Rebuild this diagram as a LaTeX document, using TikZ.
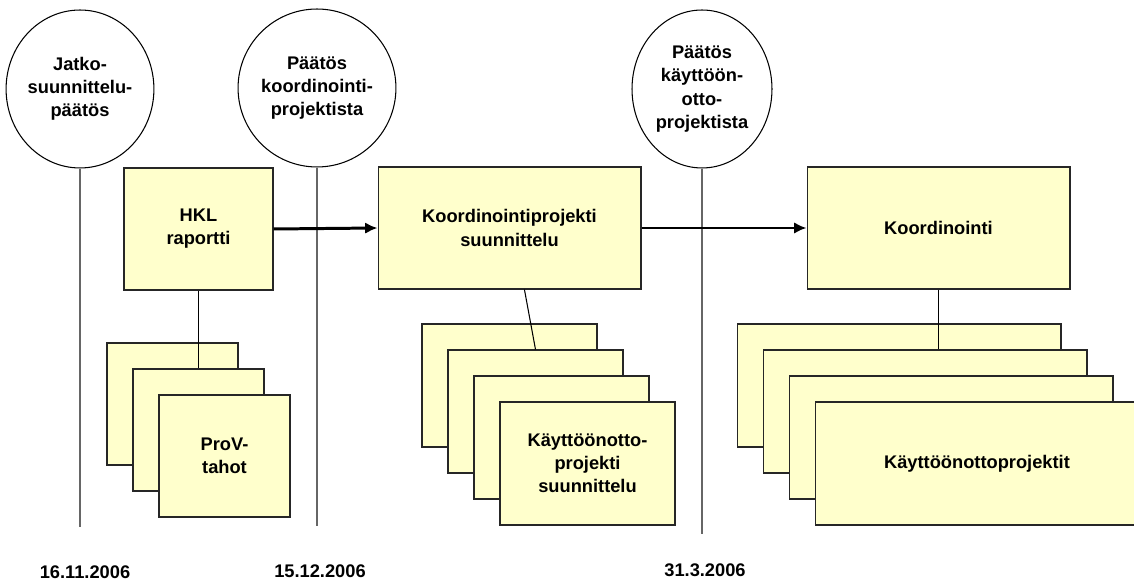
\documentclass[tikz,border=0pt]{standalone}
\usepackage{fontspec}
\setmainfont{Liberation Sans}
\usetikzlibrary{arrows.meta,positioning,shapes.geometric}
\definecolor{paleyellow}{HTML}{FFFFCC}
\definecolor{lanegray}{HTML}{666666}
\begin{document}
\begin{tikzpicture}[x=0.02cm,y=-0.02cm,>=Latex,
  font=\bfseries\fontsize{10.4}{13.2}\selectfont,
  gate/.style={draw,ellipse,minimum width=2.8cm,minimum height=3.16cm,inner sep=0pt,align=center,line width=0.6pt},
  lane/.style={draw=lanegray,line width=0.8pt},
  box/.style={draw=black!85,fill=paleyellow,line width=0.6pt,align=center,inner sep=0pt},
  flow/.style={->,line width=1.7pt,>={Latex[length=7pt,width=6.5pt]}}]
\useasboundingbox (0,0) rectangle (1134,580);
\clip (0,0) rectangle (1134,580);
% decision gates and time lines
\node[gate] (g1) at (80,89) {Jatko-\\suunnittelu-\\päätös};
\node[gate] (g2) at (317,88) {Päätös\\koordinointi-\\projektista};
\node[gate] (g3) at (702,89) {Päätös\\käyttöön-\\otto-\\projektista};
\coordinate (t1) at (80,527);
\coordinate (t2) at (317,526);
\coordinate (t3) at (702,534);
\draw[lane] (g1.south) -- (t1);
\draw[lane] (g2.south) -- (t2);
\draw[lane] (g3.south) -- (t3);
\node (d1) at (85,572) {16.11.2006};
\node (d2) at (320,571) {15.12.2006};
\node (d3) at (705,570) {31.3.2006};
% main phases
\node[box,minimum width=2.98cm,minimum height=2.44cm] (hkl) at (198.5,229) {HKL\\raportti};
\node[box,minimum width=5.26cm,minimum height=2.44cm] (kps) at (509.5,228) {Koordinointiprojekti\\suunnittelu};
\node[box,minimum width=5.26cm,minimum height=2.44cm] (ko) at (938.5,228) {Koordinointi};
\draw[flow] (hkl.east) -- (kps.west);
\draw[flow] (kps.east) -- (ko.west);
% stacked sub-boxes
\foreach \k in {1,2} {
 \node[box,minimum width=2.62cm,minimum height=2.44cm] (pv\k) at (172.5+26*\k-26,404+26*\k-26) {};
}
\node[box,minimum width=2.62cm,minimum height=2.44cm] (pv3) at (224.5,456) {ProV-\\tahot};
\foreach \k in {1,2,3} {
 \node[box,minimum width=3.5cm,minimum height=2.46cm] (kp\k) at (509.5+26*\k-26,385.5+26*\k-26) {};
}
\node[box,minimum width=3.5cm,minimum height=2.46cm] (kp4) at (587.5,463.5) {Käyttöönotto-\\projekti\\suunnittelu};
\foreach \k in {1,2,3} {
 \node[box,minimum width=6.48cm,minimum height=2.46cm] (kt\k) at (899+26*\k-26,385.5+26*\k-26) {};
}
\node[box,minimum width=6.48cm,minimum height=2.46cm] (kt4) at (977,463.5) {Käyttöönottoprojektit};
\draw[line width=0.6pt] (hkl.south) -- (hkl.south |- pv2.north);
\draw[line width=0.6pt] ([xshift=8.5]kps.south) -- (kp2.north);
\draw[line width=0.6pt] (ko.south) -- (ko.south |- kt2.north);
\end{tikzpicture}
\end{document}
